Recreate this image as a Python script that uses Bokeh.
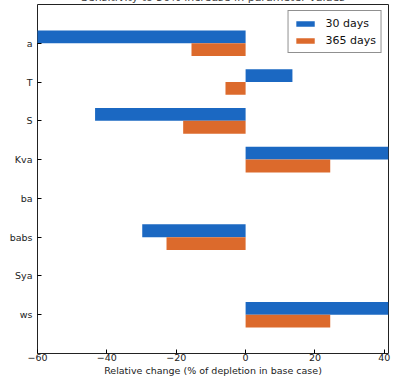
from bokeh.plotting import figure
from bokeh.models import FactorRange, Range1d, FixedTicker, Legend, LegendItem, ColumnDataSource
from bokeh.transform import dodge
from bokeh.embed import file_html
from bokeh.resources import INLINE

params = ["a", "T", "S", "Kva", "ba", "babs", "Sya", "ws"]
days30 = [-62, 13.5, -43.4, 46, 0, -29.8, 0, 46]
days365 = [-15.6, -5.8, -18.0, 24.4, 0, -22.8, 0, 24.4]
x_ticks = [-60, -40, -20, 0, 20, 40]
series_labels = ["30 days", "365 days"]
title_text = "Sensitivity to 50% increase in parameter values"
xlabel = "Relative change (% of depletion in base case)"

BLUE = "#1b68c2"
ORANGE = "#dc6a2c"
FONT = "DejaVu Sans"

src = ColumnDataSource(dict(p=params, d30=days30, d365=days365))

p = figure(
    y_range=FactorRange(factors=list(reversed(params)), range_padding=0.5, range_padding_units="absolute"),
    x_range=Range1d(-60, 41.2),
    frame_width=351, frame_height=349,
    min_border_left=37, min_border_right=4, min_border_top=0, min_border_bottom=0,
    output_backend="svg", toolbar_location=None,
    title=title_text,
    margin=(-13, 0, 0, 0),
)
p.title.align = "center"
p.title.text_font = FONT
p.title.text_font_size = "11px"
p.title.text_font_style = "normal"
p.title.standoff = 2

r1 = p.hbar(y=dodge("p", 0.165, range=p.y_range), right="d30", left=0, height=0.33,
            source=src, fill_color=BLUE, line_color=None)
r2 = p.hbar(y=dodge("p", -0.165, range=p.y_range), right="d365", left=0, height=0.33,
            source=src, fill_color=ORANGE, line_color=None)

p.xgrid.visible = False
p.ygrid.visible = False
p.outline_line_color = "#222222"
p.outline_line_width = 1

xa = p.xaxis[0]
xa.ticker = FixedTicker(ticks=x_ticks)
xa.major_label_overrides = {float(t): (("\u2212" + str(-t)) if t < 0 else str(t)) for t in x_ticks}
xa.axis_label = xlabel
xa.axis_label_text_font = FONT
xa.axis_label_text_font_size = "9.5px"
xa.axis_label_text_font_style = "normal"
xa.axis_label_text_color = "#222222"
xa.axis_label_standoff = 1
xa.major_label_text_font = FONT
xa.major_label_text_font_size = "9.5px"
xa.major_label_text_color = "#222222"
xa.major_label_standoff = 0
xa.major_tick_in = 4
xa.major_tick_out = 0
xa.minor_tick_line_color = None
xa.axis_line_color = None

ya = p.yaxis[0]
ya.major_label_text_font = FONT
ya.major_label_text_font_size = "9.5px"
ya.major_label_text_color = "#222222"
ya.major_label_standoff = 5
ya.major_tick_in = 4
ya.major_tick_out = 0
ya.axis_line_color = None

legend = Legend(items=[LegendItem(label=series_labels[0], renderers=[r1]),
                       LegendItem(label=series_labels[1], renderers=[r2])],
                location="top_right")
legend.label_text_font = FONT
legend.label_text_font_size = "11px"
legend.label_text_color = "#111111"
legend.glyph_width = 23
legend.glyph_height = 7
legend.label_height = 14
legend.label_standoff = 9
legend.spacing = 3
legend.padding = 5
legend.margin = 6
legend.border_line_color = "#222222"
legend.border_line_width = 1
legend.background_fill_alpha = 1
p.add_layout(legend)

open("out.html", "w").write(file_html(p, INLINE))
